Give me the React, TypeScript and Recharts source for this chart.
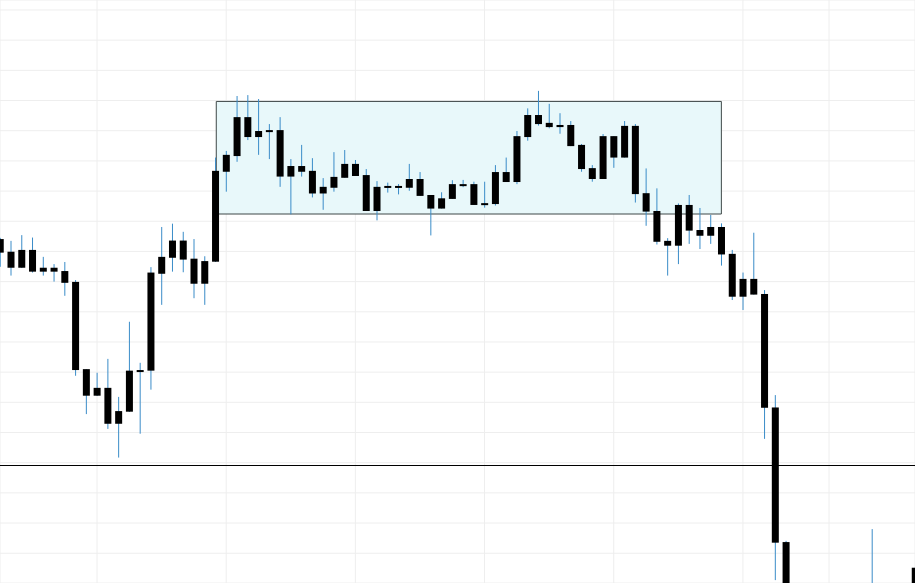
import React from "react";
import {
  ComposedChart, Bar, XAxis, YAxis, CartesianGrid, ReferenceArea, ReferenceLine
} from "recharts";

// candles by trading-day index, null = below the visible window
const opens: (number | null)[] = [
  1324.1, 1319.9, 1314.6, 1320.5, 1314.6, 1313.3, 1313.5, 1309.9, 1281.0, 1272.2,
  1274.8, 1267.1, 1266.9, 1280.2, 1280.5, 1312.6, 1317.9, 1323.6, 1317.6, 1309.3,
  1316.6, 1346.4, 1351.6, 1364.5, 1359.9, 1360.2, 1360.2, 1344.8, 1348.3, 1346.7,
  1339.2, 1341.1, 1344.4, 1349.0, 1345.3, 1333.4, 1341.7, 1341.1, 1341.1, 1344.0,
  1338.7, 1334.2, 1337.4, 1342.3, 1342.3, 1335.4, 1335.7, 1343.0, 1343.0, 1357.9,
  1365.2, 1362.6, 1361.9, 1361.9, 1355.3, 1344.0, 1344.0, 1351.1, 1351.1, 1361.6,
  1339.3, 1333.4, 1323.5, 1321.9, 1335.4, 1325.2, 1328.1, 1328.1, 1319.2, 1305.0,
  1310.9, 1305.9, 1268.3, 1223.7, null, null, null, null, null, null,
  null, 1204.0, null, null, null, 1215.2,
];
const closes: (number | null)[] = [
  1319.6, 1314.6, 1320.5, 1313.3, 1313.3, 1314.6, 1309.6, 1280.7, 1272.2, 1274.8,
  1262.9, 1262.9, 1280.5, 1280.7, 1313.0, 1318.2, 1323.6, 1317.3, 1309.3, 1316.8,
  1346.7, 1352.0, 1364.5, 1357.9, 1357.9, 1359.7, 1344.8, 1348.3, 1346.4, 1339.2,
  1341.4, 1344.7, 1349.0, 1345.0, 1333.4, 1341.4, 1341.1, 1341.7, 1344.0, 1338.4,
  1334.2, 1337.6, 1342.3, 1342.0, 1335.4, 1336.0, 1346.3, 1346.3, 1358.2, 1365.2,
  1362.2, 1361.2, 1361.2, 1354.9, 1347.3, 1347.6, 1358.2, 1358.2, 1361.6, 1339.0,
  1333.2, 1323.2, 1321.9, 1335.4, 1326.9, 1327.1, 1325.2, 1319.0, 1305.0, 1310.9,
  1305.7, 1268.2, 1223.5, 1195.0, null, null, null, null, null, null,
  null, 1196.0, null, null, null, 1200.0,
];
const highs: (number | null)[] = [
  1324.5, 1323.5, 1325.4, 1324.6, 1318.2, 1315.8, 1316.5, 1310.5, 1281.0, 1279.8,
  1284.4, 1271.8, 1296.7, 1283.1, 1314.8, 1328.1, 1329.2, 1326.5, 1324.1, 1318.4,
  1351.1, 1353.3, 1371.5, 1371.8, 1370.5, 1362.2, 1364.5, 1350.6, 1355.3, 1350.9,
  1344.3, 1352.9, 1353.6, 1350.3, 1347.3, 1343.3, 1342.8, 1342.3, 1349.0, 1346.3,
  1338.7, 1339.6, 1343.6, 1343.7, 1343.1, 1343.1, 1348.6, 1351.1, 1359.9, 1367.4,
  1373.2, 1368.9, 1365.8, 1363.2, 1355.6, 1348.6, 1358.9, 1358.2, 1363.2, 1362.2,
  1347.5, 1340.9, 1324.4, 1335.9, 1338.7, 1334.4, 1332.1, 1329.3, 1320.5, 1313.0,
  1326.2, 1307.2, 1272.4, 1224.1, null, null, null, null, null, null,
  null, 1228.0, null, null, null, 1215.2,
];
const lows: (number | null)[] = [
  1314.9, 1312.0, 1314.5, 1313.0, 1312.0, 1310.0, 1305.3, 1278.8, 1266.1, 1272.1,
  1261.2, 1251.7, 1266.8, 1259.6, 1274.2, 1302.3, 1313.3, 1313.1, 1304.5, 1302.3,
  1316.5, 1339.8, 1349.7, 1356.9, 1352.0, 1350.6, 1341.4, 1332.3, 1344.8, 1337.9,
  1333.8, 1339.8, 1344.4, 1345.0, 1333.4, 1330.3, 1339.5, 1338.9, 1340.1, 1338.4,
  1325.3, 1334.2, 1337.4, 1341.3, 1335.4, 1334.5, 1335.2, 1343.0, 1342.3, 1356.7,
  1361.7, 1360.8, 1359.0, 1354.9, 1346.4, 1343.1, 1344.0, 1347.7, 1351.1, 1336.2,
  1328.5, 1322.3, 1312.0, 1315.8, 1322.5, 1320.8, 1322.5, 1315.3, 1303.9, 1300.6,
  1305.7, 1257.9, 1211.1, 1190.0, null, null, null, null, null, null,
  null, 1190.0, null, null, null, 1195.0,
];

const priceTicks = [
  1220, 1230, 1240, 1250, 1260, 1270, 1280, 1290, 1300, 1310,
  1320, 1330, 1340, 1350, 1360, 1370, 1380, 1390, 1400,
];
const gridDays = [9, 21, 33, 45, 57, 69, 77];

const rangeBox = { from: 20.08, to: 67, low: 1332.4, high: 1369.7 };
const supportLevel = 1249.0;

const data = opens
  .map((o, i) => {
    const c = closes[i], h = highs[i], l = lows[i];
    if (o === null || c === null || h === null || l === null) return null;
    return { i, open: o, close: c, high: h, low: l, range: [l, h] };
  })
  .filter((d) => d !== null);

const Candle = (props: any) => {
  const { x, y, width, height, payload } = props;
  if (!payload) return null;
  const { open, close, high, low } = payload;
  const top = Math.min(y, y + height);
  const h = Math.abs(height);
  const k = h / (high - low || 1);
  const py = (v: number) => top + (high - v) * k;
  const cx = x + width / 2;
  const bodyTop = py(Math.max(open, close));
  const bodyH = Math.max(2, Math.abs(py(open) - py(close)));
  return (
    <g>
      <line x1={cx} x2={cx} y1={py(high)} y2={py(low)} stroke="#3a8cc8" strokeWidth={1} />
      <rect x={x} y={bodyTop} width={width} height={bodyH} fill="#000" />
    </g>
  );
};

export default function App() {
  return (
    <div style={{ position: "absolute", left: 0, top: 0 }}>
      <ComposedChart
        width={915}
        height={583}
        data={data}
        margin={{ top: 0, right: 0, left: 0, bottom: 0 }}
      >
        <CartesianGrid stroke="#eeeeee" />
        <XAxis
          type="number"
          dataKey="i"
          domain={[-0.011, 84.987]}
          allowDataOverflow
          ticks={gridDays}
          hide
        />
        <YAxis
          type="number"
          domain={[1210.14, 1403.31]}
          allowDataOverflow
          ticks={priceTicks}
          hide
        />
        <ReferenceArea
          x1={rangeBox.from}
          x2={rangeBox.to}
          y1={rangeBox.low}
          y2={rangeBox.high}
          fill="#e8f8fa"
          fillOpacity={1}
          stroke="#3f4848"
          strokeWidth={1}
        />
        <ReferenceLine y={supportLevel} stroke="#000" strokeWidth={1} shapeRendering="crispEdges" />
        <Bar
          dataKey="range"
          barSize={7}
          shape={<Candle />}
          isAnimationActive={false}
        />
      </ComposedChart>
    </div>
  );
}
